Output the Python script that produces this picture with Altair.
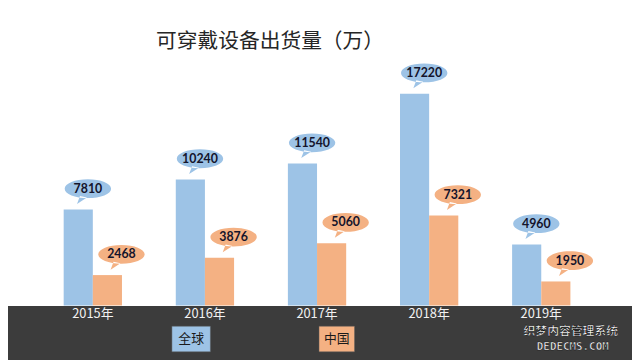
import altair as alt
import pandas as pd

years = ["2015年", "2016年", "2017年", "2018年", "2019年"]
series = ["全球", "中国"]
global_vals = [7810, 10240, 11540, 17220, 4960]
china_vals = [2468, 3876, 5060, 7321, 1950]
colors = ["#9DC3E6", "#F4B183"]
title_text = "可穿戴设备出货量（万）"

rows = []
for i, y in enumerate(years):
    rows.append({"year": y, "series": series[0], "value": global_vals[i]})
    rows.append({"year": y, "series": series[1], "value": china_vals[i]})
df = pd.DataFrame(rows)

W, H = 570, 299
xscale = alt.Scale(domain=years, paddingInner=0.48, paddingOuter=0.25)
yscale = alt.Scale(domain=[0, 24000])
cscale = alt.Scale(domain=series, range=colors)

base = alt.Chart(df)

band = alt.Chart(pd.DataFrame({"a": [0]})).mark_rect(color="#3C3C3C").encode(
    x=alt.value(-28), x2=alt.value(604), y=alt.value(299.5), y2=alt.value(360)
)

bars = base.mark_bar().encode(
    x=alt.X("year:N", scale=xscale,
            axis=alt.Axis(title=None, domain=False, ticks=False, labelAngle=0,
                          labelColor="#F2F2F2", labelFontSize=13,
                          labelFont="Noto Sans CJK SC", labelPadding=2, zindex=1)),
    xOffset=alt.XOffset("series:N", sort=series),
    y=alt.Y("value:Q", scale=yscale, axis=None),
    color=alt.Color("series:N", scale=cscale, legend=None),
)

bubble_path = ("M -2.35 0 A 2.35 0.95 0 1 1 2.35 0 A 2.35 0.95 0 1 1 -2.35 0 Z "
               "M -0.8 0.75 L -1.1 1.55 L -0.1 0.9 Z")

layers = [band, bars]
offsets = {series[0]: -5, series[1]: 29}
for s in series:
    sub = base.transform_filter(alt.datum.series == s)
    layers.append(sub.mark_point(shape=bubble_path, filled=True, size=400, opacity=1,
                                 xOffset=offsets[s], yOffset=-21).encode(
        x=alt.X("year:N", scale=xscale),
        y=alt.Y("value:Q", scale=yscale),
        color=alt.Color("series:N", scale=cscale, legend=None),
    ))
    layers.append(sub.mark_text(font="Lato", fontWeight="bold", fontSize=12.5,
                                color="#14142B", xOffset=offsets[s], yOffset=-21,
                                baseline="middle").encode(
        x=alt.X("year:N", scale=xscale),
        y=alt.Y("value:Q", scale=yscale),
        text=alt.Text("value:Q", format="d"),
    ))

one = pd.DataFrame({"a": [0]})
title = alt.Chart(one).mark_text(text=title_text, font="Noto Sans CJK SC", fontSize=21,
                                 align="left", baseline="middle",
                                 color="#262626").encode(x=alt.value(122), y=alt.value(32))
layers.append(title)

legend_pos = {series[0]: (138, 177), series[1]: (287, 323)}
for s, c in zip(series, colors):
    x0, x1 = legend_pos[s]
    layers.append(alt.Chart(one).mark_rect(color=c, stroke="#5A5A5A", strokeWidth=0.5).encode(
        x=alt.value(x0), x2=alt.value(x1), y=alt.value(320), y2=alt.value(346)))
    layers.append(alt.Chart(one).mark_text(text=s, font="Noto Sans CJK SC", fontSize=13,
                                           baseline="middle", color="#1A1A1A").encode(
        x=alt.value((x0 + x1) / 2), y=alt.value(333)))

layers.append(alt.Chart(one).mark_text(text="织梦内容管理系统", font="Noto Sans CJK SC",
                                       fontSize=12, fontWeight="bold", color="white",
                                       baseline="middle", stroke="#111111",
                                       strokeWidth=0.5).encode(
    x=alt.value(542), y=alt.value(325)))
layers.append(alt.Chart(one).mark_text(text="DEDECMS.COM", font="DejaVu Sans Mono",
                                       fontSize=11, fontWeight="bold", color="white",
                                       baseline="middle", stroke="#111111",
                                       strokeWidth=0.5).encode(
    x=alt.value(544), y=alt.value(341)))

chart = alt.layer(*layers).properties(
    width=W, height=H,
    autosize=alt.AutoSizeParams(type="none"),
    padding={"left": 28, "top": 0, "right": 34, "bottom": 53},
).configure_view(stroke=None)

chart.save("out.html", embed_options={"renderer": "svg", "actions": False})
